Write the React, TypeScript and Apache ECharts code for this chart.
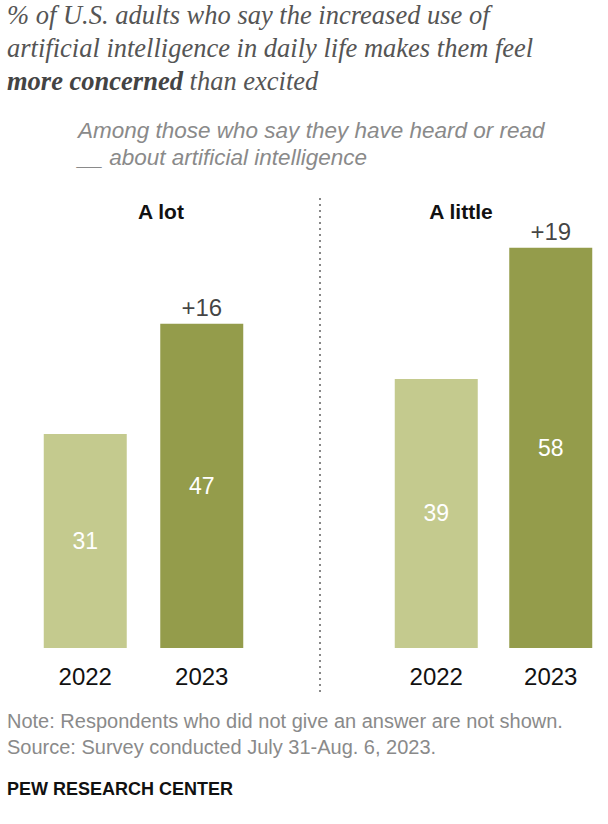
import React, { useEffect, useRef } from "react";
import * as echarts from "echarts";

const categories = ["2022", "2023"];
const aLotValues = [31, 47];
const aLittleValues = [39, 58];
const changeLabels = ["+16", "+19"];
const panelTitles = ["A lot", "A little"];
const titleLines = [
  "% of U.S. adults who say the increased use of",
  "artificial intelligence in daily life makes them feel",
];
const titleBold = "more concerned";
const titleTail = " than excited";
const subtitleLines = [
  "Among those who say they have heard or read",
  "__ about artificial intelligence",
];
const noteLines = [
  "Note: Respondents who did not give an answer are not shown.",
  "Source: Survey conducted July 31-Aug. 6, 2023.",
];
const brand = "PEW RESEARCH CENTER";

const LIGHT = "#c4ca8e";
const DARK = "#949c4b";
const SANS = "'Liberation Sans', Arial, sans-serif";
const SERIF = "'Liberation Serif', 'Times New Roman', serif";

export default function App() {
  const ref = useRef<HTMLDivElement>(null);
  useEffect(() => {
    if (!ref.current) return;
    const chart = echarts.init(ref.current, null, { renderer: "svg" });
    const panels = [aLotValues, aLittleValues];
    const gridLefts = [27, 379];
    const grids = gridLefts.map((l) => ({ left: l, width: 233, top: 234, bottom: 176 }));
    const xAxes = panels.map((_, i) => ({
      type: "category",
      gridIndex: i,
      data: categories,
      axisLine: { show: false },
      axisTick: { show: false },
      axisLabel: { fontSize: 24, color: "#111", margin: 16, fontFamily: SANS },
    }));
    const yAxes = panels.map((_, i) => ({
      type: "value",
      gridIndex: i,
      min: 0,
      max: 60,
      show: false,
    }));
    const series: any[] = [];
    panels.forEach((vals, i) => {
      series.push({
        type: "bar",
        xAxisIndex: i,
        yAxisIndex: i,
        barWidth: 83,
        data: vals.map((v, j) => ({ value: v, itemStyle: { color: j === 0 ? LIGHT : DARK } })),
        label: {
          show: true,
          position: "inside",
          color: "#fff",
          fontSize: 23,
          fontFamily: SANS,
        },
      });
      series.push({
        type: "scatter",
        xAxisIndex: i,
        yAxisIndex: i,
        symbolSize: 0,
        data: ["-", vals[1]],
        label: {
          show: true,
          position: "top",
          distance: 4,
          color: "#111",
          fontSize: 24,
          fontFamily: SANS,
          formatter: () => changeLabels[i],
        },
      });
    });
    const graphic: any[] = [];
    titleLines.forEach((t, i) => {
      graphic.push({
        type: "text",
        left: 7,
        top: 1 + i * 33,
        style: { text: t, fill: "#555", font: `italic 26.5px ${SERIF}` },
      });
    });
    graphic.push({
      type: "text",
      left: 7,
      top: 1 + 2 * 33,
      style: {
        text: `{b|${titleBold}}{n|${titleTail}}`,
        rich: {
          b: { font: `italic bold 26.5px ${SERIF}`, fill: "#444" },
          n: { font: `italic 26.5px ${SERIF}`, fill: "#555" },
        },
      },
    });
    subtitleLines.forEach((t, i) => {
      graphic.push({
        type: "text",
        left: 78,
        top: 119 + i * 27,
        style: { text: t, fill: "#8a8a8a", font: `italic 22.5px ${SANS}` },
      });
    });
    const titleCenters = [161, 461];
    panelTitles.forEach((t, i) => {
      graphic.push({
        type: "text",
        x: titleCenters[i],
        y: 211,
        style: {
          text: t,
          fill: "#111",
          font: `bold 21px ${SANS}`,
          align: "center",
          verticalAlign: "middle",
        },
      });
    });
    graphic.push({
      type: "line",
      shape: { x1: 320, y1: 198, x2: 320, y2: 692 },
      style: { stroke: "#888", lineWidth: 2, lineDash: [2, 4] },
    });
    noteLines.forEach((t, i) => {
      graphic.push({
        type: "text",
        left: 7,
        top: 711 + i * 26,
        style: { text: t, fill: "#8a8a8a", font: `20px ${SANS}` },
      });
    });
    graphic.push({
      type: "text",
      left: 7,
      top: 780,
      style: { text: brand, fill: "#111", font: `bold 18px ${SANS}` },
    });

    chart.setOption({
      animation: false,
      backgroundColor: "#fff",
      grid: grids,
      xAxis: xAxes,
      yAxis: yAxes,
      series,
      graphic,
    });
    return () => chart.dispose();
  }, []);
  return (
    <div
      ref={ref}
      style={{ position: "fixed", left: 0, top: 0, width: 608, height: 824 }}
    />
  );
}
